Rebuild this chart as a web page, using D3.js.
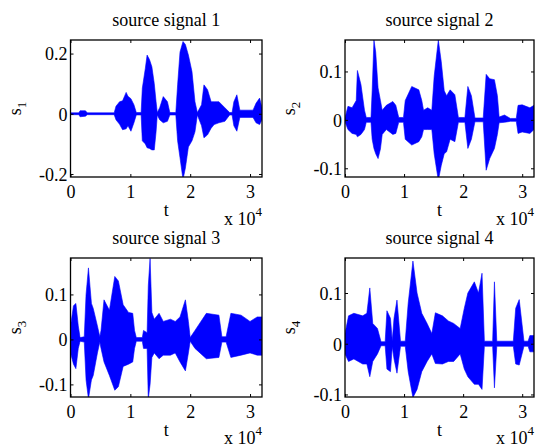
<!DOCTYPE html>
<html>
<head>
<meta charset="UTF-8">
<script src="https://d3js.org/d3.v7.min.js"></script>
<style>
    body { margin: 0; padding: 0; background: #fff; }
    text { font-family: 'Liberation Serif', 'Times New Roman', serif; fill: #000; }
</style>
</head>
<body>
<svg width="536" height="448"></svg>
<script>
// envelopes of the four source signals
// t in thousands of samples, hi / lo = upper / lower envelope
const s1T  = [0, 1.4, 1.6, 2.5, 2.8, 7.3, 7.6, 8.2, 8.7, 9.3, 9.6, 10.1, 10.6, 11.0, 11.8, 12.0, 12.5, 12.8, 13.2, 13.6, 14.0, 14.3, 14.5, 14.9, 15.5, 16.2, 16.6, 17.6, 17.9, 18.3, 18.8, 19.2, 19.7, 20.3, 20.8, 21.2, 21.9, 22.3, 22.9, 23.5, 24.0, 24.8, 25.8, 26.6, 27.0, 27.3, 27.8, 28.3, 30.5, 31.0, 31.6, 32.0];
const s1Hi = [0.003, 0.003, 0.01, 0.01, 0.003, 0.003, 0.025, 0.04, 0.043, 0.071, 0.058, 0.05, 0.03, 0.004, 0.004, 0.085, 0.15, 0.195, 0.18, 0.156, 0.1, 0.04, 0.004, 0.02, 0.057, 0.04, 0.004, 0.004, 0.096, 0.205, 0.24, 0.23, 0.195, 0.14, 0.04, 0.004, 0.03, 0.096, 0.08, 0.04, 0.04, 0.04, 0.02, 0.004, 0.004, 0.04, 0.063, 0.012, 0.012, 0.035, 0.052, 0.02];
const s1Lo = [-0.003, -0.003, -0.01, -0.008, -0.003, -0.003, -0.02, -0.035, -0.053, -0.05, -0.04, -0.058, -0.03, -0.004, -0.004, -0.09, -0.1, -0.113, -0.115, -0.12, -0.12, -0.06, -0.004, -0.02, -0.03, -0.025, -0.004, -0.004, -0.09, -0.146, -0.218, -0.18, -0.11, -0.09, -0.06, -0.004, -0.04, -0.08, -0.07, -0.048, -0.036, -0.03, -0.025, -0.004, -0.004, -0.04, -0.058, -0.012, -0.012, -0.03, -0.036, -0.02];

const s2T  = [0, 0.5, 1.2, 1.9, 2.1, 2.7, 3.3, 3.6, 4.4, 4.6, 4.9, 5.2, 5.6, 6.0, 6.3, 7.0, 8.1, 8.6, 9.1, 9.9, 10.2, 11.3, 12.5, 13.0, 13.3, 14.0, 14.7, 15.1, 15.8, 16.3, 16.8, 17.2, 17.8, 18.6, 19.2, 20.3, 20.8, 21.4, 22.0, 23.4, 23.9, 24.5, 25.3, 25.8, 26.1, 27.0, 28.0, 29.0, 29.3, 30.0, 31.3, 32.0];
const s2Hi = [0.004, 0.028, 0.025, 0.04, 0.102, 0.073, 0.02, 0.005, 0.005, 0.06, 0.165, 0.14, 0.066, 0.04, 0.02, 0.03, 0.038, 0.03, 0.005, 0.005, 0.04, 0.069, 0.062, 0.04, 0.02, 0.025, 0.02, 0.09, 0.165, 0.12, 0.06, 0.05, 0.062, 0.052, 0.005, 0.005, 0.069, 0.05, 0.004, 0.004, 0.094, 0.085, 0.083, 0.05, 0.006, 0.01, 0.003, 0.003, 0.03, 0.031, 0.025, 0.03];
const s2Lo = [-0.004, -0.02, -0.028, -0.03, -0.035, -0.03, -0.02, -0.005, -0.005, -0.04, -0.059, -0.07, -0.08, -0.06, -0.03, -0.02, -0.03, -0.028, -0.005, -0.005, -0.04, -0.052, -0.045, -0.035, -0.02, -0.02, -0.02, -0.07, -0.125, -0.094, -0.07, -0.066, -0.04, -0.045, -0.005, -0.005, -0.059, -0.04, -0.004, -0.004, -0.104, -0.08, -0.059, -0.03, -0.006, -0.005, -0.003, -0.003, -0.028, -0.025, -0.028, -0.02];

const s3T  = [0, 0.5, 0.9, 1.3, 1.6, 2.3, 2.6, 3.0, 3.5, 3.8, 4.5, 4.9, 5.1, 5.6, 6.5, 7.4, 8.0, 8.8, 9.7, 10.4, 10.7, 11.0, 12.0, 12.2, 12.8, 13.0, 13.3, 13.6, 14.0, 14.8, 15.5, 16.7, 17.5, 18.3, 19.2, 19.7, 20.0, 20.8, 22.7, 24.8, 25.3, 26.0, 26.8, 28.5, 30.0, 31.2, 32.0];
const s3Hi = [0.03, 0.075, 0.08, 0.03, 0.004, 0.006, 0.1, 0.159, 0.08, 0.069, 0.03, 0.006, 0.02, 0.088, 0.065, 0.14, 0.13, 0.077, 0.06, 0.058, 0.02, 0.004, 0.004, 0.02, 0.015, 0.12, 0.18, 0.06, 0.045, 0.058, 0.04, 0.045, 0.04, 0.05, 0.088, 0.04, 0.004, 0.02, 0.058, 0.054, 0.006, 0.006, 0.058, 0.054, 0.04, 0.05, 0.05];
const s3Lo = [-0.03, -0.055, -0.065, -0.02, -0.004, -0.006, -0.09, -0.132, -0.09, -0.08, -0.03, -0.006, -0.02, -0.05, -0.08, -0.113, -0.105, -0.06, -0.055, -0.05, -0.02, -0.004, -0.004, -0.02, -0.02, -0.132, -0.1, -0.04, -0.03, -0.043, -0.035, -0.035, -0.03, -0.05, -0.07, -0.03, -0.004, -0.02, -0.043, -0.04, -0.006, -0.006, -0.04, -0.035, -0.03, -0.035, -0.035];

const s4T  = [0, 0.6, 1.5, 3.0, 3.7, 4.2, 4.7, 5.5, 6.1, 6.8, 7.1, 7.7, 8.0, 8.3, 8.8, 9.4, 10.2, 10.7, 11.5, 12.2, 13.0, 13.9, 14.7, 15.3, 16.5, 17.5, 18.4, 19.5, 20.2, 20.8, 21.9, 22.6, 23.2, 23.6, 25.0, 25.3, 25.7, 28.5, 28.9, 29.5, 30.3, 31.0, 31.3, 32.0];
const s4Hi = [0.02, 0.055, 0.06, 0.055, 0.06, 0.11, 0.04, 0.03, 0.004, 0.004, 0.065, 0.05, 0.006, 0.05, 0.086, 0.005, 0.005, 0.08, 0.163, 0.1, 0.06, 0.04, 0.02, 0.061, 0.055, 0.045, 0.04, 0.03, 0.07, 0.1, 0.122, 0.1, 0.139, 0.005, 0.005, 0.122, 0.005, 0.005, 0.07, 0.087, 0.005, 0.005, 0.016, 0.016];
const s4Lo = [-0.02, -0.035, -0.03, -0.04, -0.04, -0.065, -0.035, -0.02, -0.004, -0.004, -0.05, -0.055, -0.006, -0.03, -0.058, -0.005, -0.005, -0.055, -0.106, -0.09, -0.055, -0.035, -0.02, -0.039, -0.04, -0.035, -0.035, -0.02, -0.05, -0.065, -0.08, -0.08, -0.09, -0.005, -0.005, -0.087, -0.005, -0.005, -0.04, -0.042, -0.005, -0.005, -0.016, -0.016];

const titles = ["source signal 1", "source signal 2", "source signal 3", "source signal 4"];
const xTicks = [0, 10000, 20000, 30000];
const yTicks = [[-0.2, 0, 0.2], [-0.1, 0, 0.1], [-0.1, 0, 0.1], [-0.1, 0, 0.1]];
const yLims  = [[-0.21, 0.245], [-0.118, 0.165], [-0.128, 0.181], [-0.105, 0.169]];
const xLim   = [0, 32000];

const sigs = [[s1T, s1Hi, s1Lo], [s2T, s2Hi, s2Lo], [s3T, s3Hi, s3Lo], [s4T, s4Hi, s4Lo]];

// axes boxes [left, top, right, bottom]
const boxes = [[70.5, 40, 262, 177], [345, 40, 534, 177], [70.5, 258, 262, 397], [345, 258, 534, 397]];

const svg = d3.select("svg");
const fs = 18;

sigs.forEach(function (s, k) {
    const b = boxes[k];
    const x = d3.scaleLinear().domain(xLim).range([b[0], b[2]]);
    const y = d3.scaleLinear().domain(yLims[k]).range([b[3], b[1]]);
    const g = svg.append("g");

    g.append("clipPath").attr("id", "clip" + k)
        .append("rect").attr("x", b[0]).attr("y", b[1])
        .attr("width", b[2] - b[0]).attr("height", b[3] - b[1]);

    const area = d3.area()
        .x(function (i) { return x(s[0][i] * 1000); })
        .y0(function (i) { return y(s[2][i]); })
        .y1(function (i) { return y(s[1][i]); });

    g.append("path")
        .attr("clip-path", "url(#clip" + k + ")")
        .attr("d", area(d3.range(s[0].length)))
        .attr("fill", "#0000ff")
        .attr("stroke", "#0000ff")
        .attr("stroke-width", 0.6);

    const yFmt = function (d) { return d === 0 ? "0" : String(d); };

    // axes, ticks point inward like matlab
    const ax = [
        [d3.axisBottom(x).tickValues(xTicks).tickSize(-3).tickFormat(function (d) { return d / 10000; }), b[3]],
        [d3.axisTop(x).tickValues(xTicks).tickSize(-3).tickFormat(""), b[1]]
    ];
    ax.forEach(function (a) {
        const ga = g.append("g").attr("transform", "translate(0," + a[1] + ")").call(a[0]);
        ga.attr("font-family", null);
        ga.select(".domain").remove();
        ga.selectAll("line").attr("stroke", "#000");
        ga.selectAll("text").attr("font-size", fs).attr("dy", null).attr("y", 21);
    });
    const ay = [
        [d3.axisLeft(y).tickValues(yTicks[k]).tickSize(-3).tickFormat(yFmt), b[0]],
        [d3.axisRight(y).tickValues(yTicks[k]).tickSize(-3).tickFormat(""), b[2]]
    ];
    ay.forEach(function (a) {
        const ga = g.append("g").attr("transform", "translate(" + a[1] + ",0)").call(a[0]);
        ga.attr("font-family", null);
        ga.select(".domain").remove();
        ga.selectAll("line").attr("stroke", "#000");
        ga.selectAll("text").attr("font-size", fs).attr("x", -3).attr("dy", "0.35em");
    });

    g.append("rect")
        .attr("x", b[0]).attr("y", b[1])
        .attr("width", b[2] - b[0]).attr("height", b[3] - b[1])
        .attr("fill", "none").attr("stroke", "#000").attr("stroke-width", 1.3);

    const cx = (b[0] + b[2]) / 2;
    g.append("text").attr("x", cx).attr("y", b[1] - 14)
        .attr("text-anchor", "middle").attr("font-size", fs).text(titles[k]);

    g.append("text").attr("x", cx).attr("y", b[3] + 39)
        .attr("text-anchor", "middle").attr("font-size", fs).text("t");

    const ex = g.append("text").attr("x", b[2]).attr("y", Math.min(b[3] + 48, 444))
        .attr("text-anchor", "end").attr("font-size", fs);
    ex.append("tspan").text("x 10");
    ex.append("tspan").attr("font-size", 13).attr("dy", -9).text("4");

    const yl = g.append("text")
        .attr("transform", "translate(" + (b[0] - 50) + "," + ((b[1] + b[3]) / 2) + ") rotate(-90)")
        .attr("text-anchor", "middle").attr("font-size", fs);
    yl.append("tspan").text("s");
    yl.append("tspan").attr("font-size", 13).attr("dy", 5).text(k + 1);
});
</script>
</body>
</html>
